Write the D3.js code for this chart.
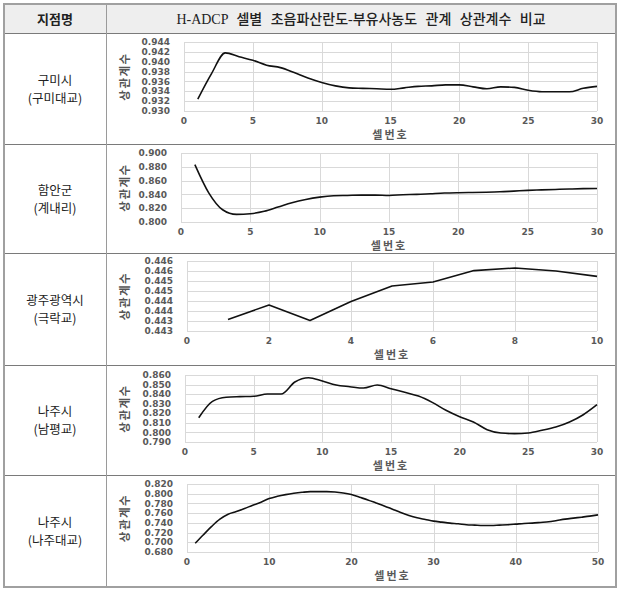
<!DOCTYPE html>
<html><head><meta charset="utf-8">
<script src="https://cdn.jsdelivr.net/npm/d3@7"></script>
<style>
html,body{margin:0;padding:0;background:#fff;}
svg{display:block;}
</style></head>
<body>
<svg id="c" width="626" height="596"></svg>
<script>
// ---------- DATA ----------
const headerLeft = "지점명";
const headerRight = "H-ADCP 셀별 초음파산란도-부유사농도 관계 상관계수 비교";
const siteNames = ["구미시", "함안군", "광주광역시", "나주시", "나주시"];
const siteBridges = ["(구미대교)", "(계내리)", "(극락교)", "(남평교)", "(나주대교)"];
const xTitle = "셀번호";
const yTitle = "상관계수";

const cells30 = [1,2,3,4,5,6,7,8,9,10,11,12,13,14,15,16,17,18,19,20,21,22,23,24,25,26,27,28,29,30];
const cells10 = [1,2,3,4,5,6,7,8,9,10];
const cells50 = [1,2,3,4,5,6,7,8,9,10,11,12,13,14,15,16,17,18,19,20,21,22,23,24,25,26,27,28,29,30,31,32,33,34,35,36,37,38,39,40,41,42,43,44,45,46,47,48,49,50];

const gumiValues = [0.9324,0.9376,0.9418,0.9410,0.9403,0.9393,0.9388,0.9378,0.9367,0.9358,
  0.9351,0.9347,0.9346,0.9345,0.9344,0.9347,0.9350,0.9351,0.9353,0.9353,
  0.9349,0.9345,0.9349,0.9348,0.9342,0.9339,0.9339,0.9339,0.9346,0.9350];
const hamanValues = [0.8832,0.8423,0.8178,0.8110,0.8120,0.8155,0.8217,0.8280,0.8327,0.8360,
  0.8380,0.8385,0.8390,0.8390,0.8385,0.8395,0.8400,0.8410,0.8420,0.8425,
  0.8428,0.8432,0.8438,0.8448,0.8458,0.8465,0.8472,0.8478,0.8483,0.8485];
const gwangjuValues = [0.44308,0.44380,0.44303,0.44397,0.44475,0.44495,0.44552,0.44565,0.44550,0.44523];
const nampyeongValues = [0.8154,0.8325,0.8367,0.8374,0.8378,0.8401,0.8401,0.8527,0.8572,0.8537,
  0.8495,0.8478,0.8464,0.8495,0.8457,0.8419,0.8380,0.8314,0.8231,0.8164,
  0.8109,0.8029,0.7994,0.7987,0.7994,0.8022,0.8056,0.8109,0.8185,0.8290];
const najuValues = [0.6980,0.7156,0.7326,0.7476,0.7579,0.7633,0.7695,0.7763,0.7825,0.7900,
  0.7947,0.7982,0.8009,0.8029,0.8043,0.8043,0.8043,0.8036,0.8016,0.7982,
  0.7927,0.7872,0.7811,0.7749,0.7681,0.7613,0.7552,0.7504,0.7470,0.7436,
  0.7415,0.7395,0.7381,0.7361,0.7354,0.7347,0.7347,0.7354,0.7361,0.7374,
  0.7388,0.7395,0.7408,0.7422,0.7449,0.7476,0.7497,0.7517,0.7538,0.7565];

const xTicks30 = [0,5,10,15,20,25,30];
const xTicks10 = [0,2,4,6,8,10];
const xTicks50 = [0,10,20,30,40,50];
const yTicksGumi = [0.930,0.932,0.934,0.936,0.938,0.940,0.942,0.944];
const yTicksHaman = [0.800,0.820,0.840,0.860,0.880,0.900];
const yTicksGwangju = [0.4425,0.4430,0.4435,0.4440,0.4445,0.4450,0.4455,0.4460];
const yTickLabelsGwangju = ["0.443","0.443","0.444","0.444","0.445","0.445","0.446","0.446"];
const yTicksNampyeong = [0.790,0.800,0.810,0.820,0.830,0.840,0.850,0.860];
const yTicksNaju = [0.680,0.700,0.720,0.740,0.760,0.780,0.800,0.820];

// ---------- LAYOUT ----------
const svg = d3.select("#c");
const T = {x0: 4, x1: 616, colX: 106, rows: [4, 33, 144, 253, 365, 475, 587]};
const sans = "'Noto Sans CJK KR', 'Noto Sans', sans-serif";
const serifMix = "'Liberation Serif', 'Noto Sans CJK KR', serif";
const tickFont = "'DejaVu Sans', Verdana, sans-serif";

// header background
svg.append("rect").attr("x", T.x0).attr("y", T.rows[0])
  .attr("width", T.x1 - T.x0).attr("height", T.rows[1] - T.rows[0]).attr("fill", "#eeeeee");

const panels = [
  {cells: cells30, values: gumiValues, xTicks: xTicks30, yTicks: yTicksGumi, fmt: d3.format(".3f"),
   left: 184, right: 597, top: 42, bottom: 111, curve: d3.curveMonotoneX},
  {cells: cells30, values: hamanValues, xTicks: xTicks30, yTicks: yTicksHaman, fmt: d3.format(".3f"),
   left: 181, right: 597, top: 153, bottom: 222, curve: d3.curveMonotoneX},
  {cells: cells10, values: gwangjuValues, xTicks: xTicks10, yTicks: yTicksGwangju, labels: yTickLabelsGwangju,
   left: 187, right: 597, top: 261, bottom: 331, curve: d3.curveLinear},
  {cells: cells30, values: nampyeongValues, xTicks: xTicks30, yTicks: yTicksNampyeong, fmt: d3.format(".3f"),
   left: 185, right: 597, top: 375, bottom: 442, curve: d3.curveMonotoneX},
  {cells: cells50, values: najuValues, xTicks: xTicks50, yTicks: yTicksNaju, fmt: d3.format(".3f"),
   left: 187, right: 598, top: 484, bottom: 552, curve: d3.curveMonotoneX}
];

panels.forEach((p, i) => {
  const rowTop = T.rows[i + 1], rowBot = T.rows[i + 2];
  const x = d3.scaleLinear().domain([p.xTicks[0], p.xTicks[p.xTicks.length - 1]]).range([p.left, p.right]);
  const y = d3.scaleLinear().domain([p.yTicks[0], p.yTicks[p.yTicks.length - 1]]).range([p.bottom, p.top]);
  const g = svg.append("g");

  // gridlines
  g.append("g").selectAll("line.h").data(p.yTicks).join("line")
    .attr("x1", p.left).attr("x2", p.right)
    .attr("y1", d => Math.round(y(d)) + 0.5).attr("y2", d => Math.round(y(d)) + 0.5)
    .attr("stroke", "#d9d9d9").attr("stroke-width", 1);
  g.append("g").selectAll("line.v").data(p.xTicks).join("line")
    .attr("y1", p.top).attr("y2", p.bottom)
    .attr("x1", d => Math.round(x(d)) + 0.5).attr("x2", d => Math.round(x(d)) + 0.5)
    .attr("stroke", "#d9d9d9").attr("stroke-width", 1);

  // y tick labels
  g.append("g").selectAll("text").data(p.yTicks).join("text")
    .attr("x", p.left - 14).attr("y", d => y(d)).attr("dy", "0.35em")
    .attr("text-anchor", "end").attr("font-family", tickFont).attr("font-weight", "bold")
    .attr("font-size", 9).attr("fill", "#595959")
    .text((d, j) => p.labels ? p.labels[j] : p.fmt(d));

  // x tick labels
  g.append("g").selectAll("text").data(p.xTicks).join("text")
    .attr("x", d => x(d)).attr("y", p.bottom + 10).attr("dy", "0.35em")
    .attr("text-anchor", "middle").attr("font-family", tickFont).attr("font-weight", "bold")
    .attr("font-size", 9).attr("fill", "#595959")
    .text(d => d);

  // axis titles
  g.append("text").attr("x", (p.left + p.right) / 2).attr("y", p.bottom + 24).attr("dy", "0.35em")
    .attr("text-anchor", "middle").attr("font-family", sans).attr("font-weight", "bold")
    .attr("font-size", 11).attr("letter-spacing", 2).attr("fill", "#595959").text(xTitle);
  const yc = (p.top + p.bottom) / 2;
  g.append("text").attr("transform", `translate(${125},${yc}) rotate(-90)`).attr("dy", "0.35em")
    .attr("text-anchor", "middle").attr("font-family", sans).attr("font-weight", "bold")
    .attr("font-size", 11.5).attr("letter-spacing", 1.5).attr("fill", "#555").text(yTitle);

  // line
  const line = d3.line().x((d, j) => x(p.cells[j])).y(d => y(d)).curve(p.curve);
  g.append("path").datum(p.values).attr("d", line)
    .attr("fill", "none").attr("stroke", "#111").attr("stroke-width", 1.6).attr("stroke-linejoin", "round");

  // site name
  const cy = (rowTop + rowBot) / 2;
  svg.append("text").attr("x", (T.x0 + T.colX) / 2).attr("y", cy - 8).attr("dy", "0.35em")
    .attr("text-anchor", "middle").attr("font-family", sans).attr("font-size", 12.5).attr("fill", "#222")
    .text(siteNames[i]);
  svg.append("text").attr("x", (T.x0 + T.colX) / 2).attr("y", cy + 10).attr("dy", "0.35em")
    .attr("text-anchor", "middle").attr("font-family", sans).attr("font-size", 12.5).attr("fill", "#222")
    .text(siteBridges[i]);
});

// header text
svg.append("text").attr("x", (T.x0 + T.colX) / 2).attr("y", 19).attr("dy", "0.35em")
  .attr("text-anchor", "middle").attr("font-family", sans).attr("font-weight", "bold")
  .attr("font-size", 13).attr("fill", "#222").text(headerLeft);
svg.append("text").attr("x", (T.colX + T.x1) / 2).attr("y", 19).attr("dy", "0.35em")
  .attr("text-anchor", "middle").attr("font-family", serifMix).attr("font-weight", "500")
  .attr("font-size", 14).attr("word-spacing", 5).attr("fill", "#222").text(headerRight);

// table lines
T.rows.slice(1, -1).forEach(r => {
  svg.append("line").attr("x1", T.x0).attr("x2", T.x1).attr("y1", r + 0.5).attr("y2", r + 0.5)
    .attr("stroke", "#7a7a7a").attr("stroke-width", 1);
});
svg.append("line").attr("x1", T.colX + 0.5).attr("x2", T.colX + 0.5).attr("y1", T.rows[0]).attr("y2", T.rows[6])
  .attr("stroke", "#9a9a9a").attr("stroke-width", 1);
svg.append("rect").attr("x", T.x0).attr("y", T.rows[0]).attr("width", T.x1 - T.x0).attr("height", T.rows[6] - T.rows[0])
  .attr("fill", "none").attr("stroke", "#a0a0a0").attr("stroke-width", 2);
</script>
</body></html>
